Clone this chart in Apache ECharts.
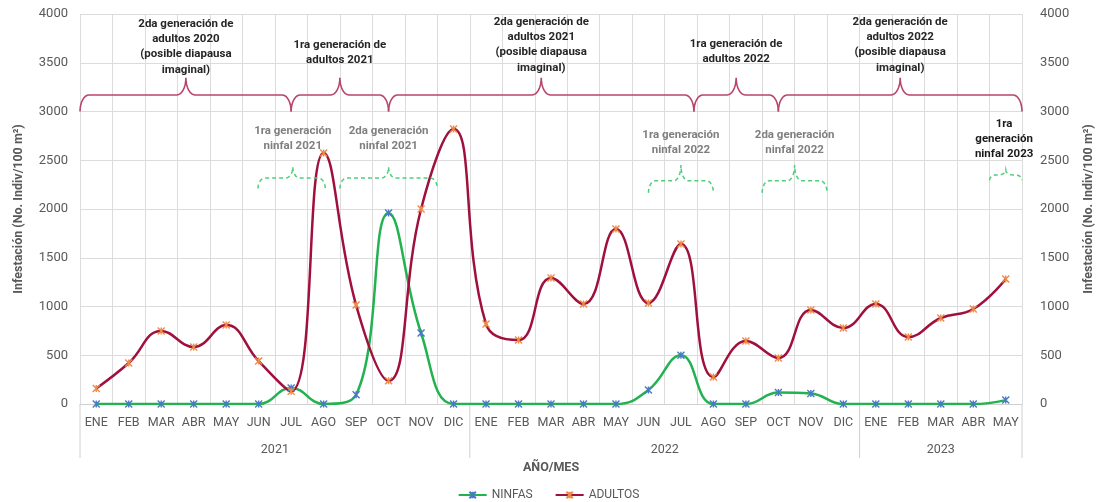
<!DOCTYPE html>
<html><head><meta charset="utf-8">
<script src="https://cdn.jsdelivr.net/npm/echarts@6/dist/echarts.min.js"></script>
<style>html,body{margin:0;padding:0;background:#fff}#c{width:1097px;height:502px}</style>
</head><body><div id="c"></div>
<script>
// ---- data ----
const categories = ['ENE','FEB','MAR','ABR','MAY','JUN','JUL','AGO','SEP','OCT','NOV','DIC',
                    'ENE','FEB','MAR','ABR','MAY','JUN','JUL','AGO','SEP','OCT','NOV','DIC',
                    'ENE','FEB','MAR','ABR','MAY'];
const years = ['2021','2022','2023'];
const yearSpans = [[0,11],[12,23],[24,28]];
const ninfas = [0,0,0,0,0,0,165,0,95,1960,728,0,
                0,0,0,0,0,144,500,0,0,118,108,0,
                0,0,0,0,40];
const adultos = [160,420,749,585,810,440,130,2574,1015,239,2000,2820,
                 820,656,1292,1026,1795,1036,1641,277,646,472,964,780,
                 1026,687,882,974,1282];

// ---- annotations (category index / value coords) ----
const adultBraces = [ // [start, tip, end]
  [-0.5, 2.76, 6.0], [6.0, 7.5, 9.0], [9.0, 13.7, 18.4], [18.4, 19.7, 21.0], [21.0, 24.75, 28.5]
];
const nymphBraces = [ // [start, tip, end, yEnd, yH, yTip]
  [4.98, 6.05, 7.05, 2210, 2318, 2430],
  [7.5, 9.0, 10.5, 2210, 2318, 2430],
  [17.0, 18.0, 19.0, 2165, 2290, 2450],
  [20.5, 21.5, 22.5, 2165, 2290, 2450],
  [27.5, 28.0, 28.5, 2295, 2350, 2400]
];
const adultTexts = [
  ['2da generación de\nadultos 2020\n(posible diapausa\nimaginal)', 2.76, 3978],
  ['1ra generación de\nadultos 2021', 7.5, 3762],
  ['2da generación de\nadultos 2021\n(posible diapausa\nimaginal)', 13.7, 3998],
  ['1ra generación de\nadultos 2022', 19.7, 3772],
  ['2da generación de\nadultos 2022\n(posible diapausa\nimaginal)', 24.75, 3998]
];
const nymphTexts = [
  ['1ra generación\nninfal 2021', 6.05, 2880, '#7f7f7f'],
  ['2da generación\nninfal 2021', 9.0, 2880, '#7f7f7f'],
  ['1ra generación\nninfal 2022', 18.0, 2840, '#7f7f7f'],
  ['2da generación\nninfal 2022', 21.5, 2840, '#7f7f7f'],
  ['1ra\ngeneración\nninfal 2023', 27.95, 2952, '#1a1a1a']
];

const FONT = 'Roboto, "Liberation Sans", sans-serif';
const GRAY = '#595959';
const chart = echarts.init(document.getElementById('c'), null, {renderer:'canvas'});
const star = 'path://M0,0L10,10M10,0L0,10M5,0L5,10';

const yAxisBase = {
  type:'value', min:0, max:4000, interval:500,
  name:'Infestación (No. Indiv/100 m²)', nameLocation:'middle', nameRotate:90,
  nameTextStyle:{color:GRAY, fontWeight:'bold', fontSize:12.5, fontFamily:FONT},
  axisLine:{show:false}, axisTick:{show:false}
};

chart.setOption({
  animation:false,
  grid:{left:80, right:75, top:14, bottom:98, containLabel:false, outerBoundsMode:'none'},
  legend:{
    top:484, left:'center', itemWidth:28, itemHeight:8, itemGap:22,
    textStyle:{color:GRAY, fontSize:12, fontFamily:FONT},
    data:['NINFAS','ADULTOS']
  },
  xAxis:{
    type:'category', data:categories, boundaryGap:true,
    axisLine:{lineStyle:{color:'#d0d0d0'}},
    axisTick:{show:false},
    axisLabel:{color:GRAY, fontSize:12.5, fontFamily:FONT, interval:0, margin:12},
    splitLine:{show:true, interval:0, lineStyle:{color:'#dcdcdc'}}
  },
  yAxis:[
    Object.assign({}, yAxisBase, {position:'left', nameGap:55,
      axisLabel:{color:GRAY, fontSize:13, fontFamily:FONT, margin:12, formatter:v=>String(v)},
      splitLine:{lineStyle:{color:'#dcdcdc'}}}),
    Object.assign({}, yAxisBase, {position:'right', nameGap:60,
      splitLine:{show:false},
      axisLabel:{color:GRAY, fontSize:13, fontFamily:FONT, margin:18, formatter:v=>String(v)}})
  ],
  series:[
    {name:'NINFAS', type:'line', data:ninfas, smooth:0.45, symbol:star, symbolSize:7,
     lineStyle:{color:'#22b24f', width:2.5},
     itemStyle:{color:'#4a78c8', borderColor:'#4a78c8', borderWidth:1.4}},
    {name:'ADULTOS', type:'line', data:adultos, smooth:0.45, symbol:star, symbolSize:7,
     lineStyle:{color:'#a0103c', width:2.5},
     itemStyle:{color:'#ef8a47', borderColor:'#ef8a47', borderWidth:1.4}}
  ]
});

// ---- annotation graphics computed from the axes ----
const p0 = chart.convertToPixel({xAxisIndex:0}, 0);
const step = chart.convertToPixel({xAxisIndex:0}, 1) - p0;
const px = i => p0 + i*step;
const py = v => chart.convertToPixel({yAxisIndex:0}, v);

function braceSym(x0, xt, x1, yE, yH, yT, r){
  const pts = [];
  const N = 8;
  const ry1 = yE - yH, ry2 = yH - yT;
  for(let k=0;k<=N;k++){const a=Math.PI+k*(Math.PI/2)/N; pts.push([x0+r+r*Math.cos(a), yE+ry1*Math.sin(a)]);}
  for(let k=0;k<=N;k++){const a=Math.PI/2-k*(Math.PI/2)/N; pts.push([xt-r+r*Math.cos(a), yT+ry2*Math.sin(a)]);}
  for(let k=0;k<=N;k++){const a=Math.PI-k*(Math.PI/2)/N; pts.push([xt+r+r*Math.cos(a), yT+ry2*Math.sin(a)]);}
  for(let k=0;k<=N;k++){const a=-Math.PI/2+k*(Math.PI/2)/N; pts.push([x1-r+r*Math.cos(a), yE+ry1*Math.sin(a)]);}
  return pts;
}

const g = [];
adultBraces.forEach(b=>{
  g.push({type:'polyline', silent:true, z:50,
    shape:{points:braceSym(px(b[0]), px(b[1]), px(b[2]), py(3000), py(3170), py(3345), 9)},
    style:{stroke:'#b8456b', lineWidth:1.6, fill:null}});
});
nymphBraces.forEach(b=>{
  g.push({type:'polyline', silent:true, z:50,
    shape:{points:braceSym(px(b[0]), px(b[1]), px(b[2]), py(b[3]), py(b[4]), py(b[5]), 7)},
    style:{stroke:'#4fcf7e', lineWidth:1.5, fill:null, lineDash:[4,3]}});
});
adultTexts.forEach(t=>{
  g.push({type:'text', silent:true, z:60,
    style:{text:t[0], x:px(t[1]), y:py(t[2]), textAlign:'center', textVerticalAlign:'top',
      fill:'#262626', font:'bold 11.5px '+FONT, lineHeight:15.3}});
});
nymphTexts.forEach(t=>{
  g.push({type:'text', silent:true, z:60,
    style:{text:t[0], x:px(t[1]), y:py(t[2]), textAlign:'center', textVerticalAlign:'top',
      fill:t[3], font:'bold 11.5px '+FONT, lineHeight:15.3}});
});
// year level of the axis
const yb = py(0);
const seps = [-0.5, 11.5, 23.5, 28.5];
seps.forEach(s=>{
  g.push({type:'line', silent:true, shape:{x1:px(s), y1:yb, x2:px(s), y2:yb+54},
    style:{stroke:'#d0d0d0', lineWidth:1}});
});
years.forEach((y,i)=>{
  const c = (yearSpans[i][0]+yearSpans[i][1])/2;
  g.push({type:'text', silent:true,
    style:{text:y, x:px(c), y:yb+46, textAlign:'center', textVerticalAlign:'middle',
      fill:GRAY, font:'12.5px '+FONT}});
});
g.push({type:'text', silent:true,
  style:{text:'AÑO/MES', x:(px(-0.5)+px(28.5))/2, y:yb+64, textAlign:'center', textVerticalAlign:'middle',
    fill:GRAY, font:'bold 12.5px '+FONT}});
chart.setOption({graphic:g});
</script>
</body></html>
